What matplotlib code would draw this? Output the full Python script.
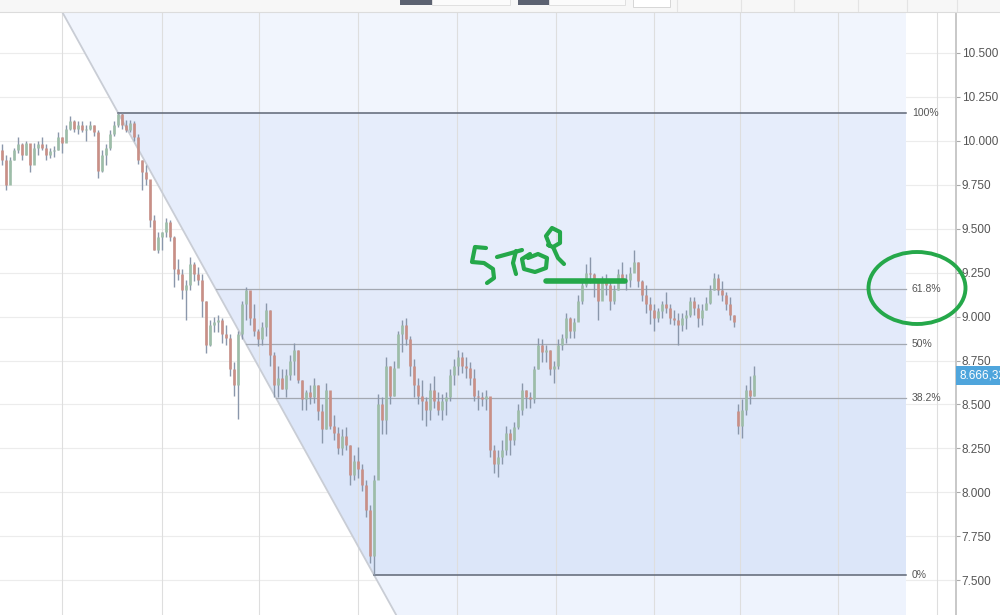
import numpy as np
import matplotlib
matplotlib.use("Agg")
import matplotlib.pyplot as plt
from matplotlib.patches import Rectangle, Ellipse
from matplotlib.lines import Line2D
from matplotlib.ticker import FormatStrFormatter
import matplotlib.transforms as mtransforms

plt.rcParams['font.family'] = ['Liberation Sans', 'DejaVu Sans']

# --- price data (first session) ---
highs_a = [9.98, 9.92, 9.91, 9.96, 10.02, 9.99, 10.00, 9.92, 9.99, 10.00,
           10.02, 9.98, 9.96, 9.97, 10.05, 10.02, 10.09, 10.14, 10.12, 10.11,
           10.11, 10.09, 10.11, 10.09, 10.06, 9.95, 9.98, 10.06, 10.11, 10.16,
           10.16, 10.12, 10.12, 10.11, 10.04, 9.89, 9.86, 9.75, 9.58, 9.48,
           9.48, 9.56, 9.55, 9.46, 9.33, 9.27, 9.21, 9.34, 9.31, 9.28,
           9.24, 9.09, 8.98, 9.00, 9.01, 8.99, 8.95, 8.90, 8.74, 8.92,
           9.09, 9.17, 9.14, 9.07, 8.93, 8.97, 9.08, 9.04, 8.80, 8.72,
           8.70, 8.70, 8.78, 8.85, 8.81, 8.64, 8.58, 8.61, 8.65, 8.61,
           8.50, 8.62, 8.55, 8.44, 8.37, 8.36, 8.37, 8.27, 8.21, 8.26,
           8.16, 8.07, 7.93, 8.10, 8.56, 8.54, 8.77, 8.72, 8.75, 8.92,
           8.98, 8.99, 8.89, 8.76, 8.65, 8.64, 8.54, 8.62, 8.66, 8.57,
           8.56, 8.57, 8.70, 8.76, 8.81, 8.80, 8.77, 8.74, 8.70, 8.58,
           8.57, 8.58, 8.53, 8.27, 8.24, 8.30, 8.38, 8.36, 8.40, 8.50,
           8.62, 8.58, 8.57, 8.72, 8.88, 8.87, 8.84, 8.81, 8.75, 8.87,
           8.90, 9.02, 9.00, 8.99, 9.12, 9.21, 9.30, 9.34, 9.25, 9.21,
           9.23, 9.24, 9.21, 9.18, 9.27, 9.31, 9.24, 9.28, 9.38, 9.31,
           9.21, 9.18, 9.11, 9.07, 9.05, 9.09, 9.14, 9.07, 9.04, 9.02,
           9.02, 9.04, 9.11, 9.11, 9.07, 9.07, 9.11, 9.18, 9.25, 9.24,
           9.20, 9.14, 9.11, 9.01]
lows_a = [9.86, 9.72, 9.82, 9.89, 9.93, 9.89, 9.92, 9.82, 9.89, 9.92,
          9.95, 9.89, 9.90, 9.91, 9.95, 9.93, 10.00, 10.06, 10.05, 10.04,
          10.05, 10.00, 10.06, 10.03, 9.79, 9.82, 9.86, 9.95, 10.03, 10.08,
          10.07, 10.05, 10.05, 10.00, 9.87, 9.72, 9.75, 9.51, 9.38, 9.36,
          9.38, 9.45, 9.43, 9.17, 9.21, 9.10, 8.98, 9.15, 9.20, 9.18,
          9.00, 8.79, 8.83, 8.91, 8.91, 8.85, 8.84, 8.66, 8.55, 8.42,
          8.87, 8.98, 8.95, 8.89, 8.83, 8.84, 8.89, 8.72, 8.54, 8.54,
          8.59, 8.54, 8.64, 8.67, 8.62, 8.47, 8.47, 8.50, 8.51, 8.41,
          8.28, 8.36, 8.36, 8.30, 8.22, 8.21, 8.24, 8.04, 8.07, 8.08,
          8.01, 7.86, 7.60, 7.53, 8.13, 8.33, 8.33, 8.50, 8.55, 8.72,
          8.80, 8.84, 8.66, 8.54, 8.50, 8.41, 8.38, 8.41, 8.48, 8.44,
          8.41, 8.44, 8.52, 8.61, 8.67, 8.68, 8.65, 8.61, 8.52, 8.47,
          8.49, 8.47, 8.20, 8.11, 8.09, 8.16, 8.21, 8.21, 8.27, 8.36,
          8.44, 8.48, 8.48, 8.51, 8.70, 8.74, 8.74, 8.67, 8.62, 8.70,
          8.81, 8.85, 8.88, 8.88, 8.98, 9.07, 9.17, 9.19, 9.11, 8.98,
          9.11, 9.12, 9.04, 9.07, 9.15, 9.20, 9.15, 9.17, 9.27, 9.17,
          9.09, 9.02, 8.96, 8.92, 8.97, 8.99, 9.02, 8.96, 8.95, 8.84,
          8.92, 8.93, 9.00, 9.01, 8.94, 8.95, 9.04, 9.07, 9.15, 9.12,
          9.09, 9.04, 8.98, 8.94]
closes_a = [9.89, 9.75, 9.89, 9.95, 9.98, 9.92, 9.99, 9.86, 9.96, 9.98,
            9.96, 9.92, 9.94, 9.95, 10.02, 9.99, 10.07, 10.11, 10.07, 10.09,
            10.06, 10.07, 10.09, 10.05, 9.83, 9.92, 9.96, 10.04, 10.09, 10.15,
            10.09, 10.06, 10.10, 10.02, 9.89, 9.82, 9.78, 9.55, 9.38, 9.45,
            9.48, 9.54, 9.45, 9.27, 9.24, 9.15, 9.18, 9.30, 9.24, 9.21,
            9.09, 8.84, 8.95, 8.97, 8.98, 8.90, 8.88, 8.70, 8.61, 8.90,
            9.07, 9.15, 8.99, 8.92, 8.87, 8.94, 9.04, 8.78, 8.61, 8.65,
            8.59, 8.67, 8.75, 8.81, 8.64, 8.53, 8.57, 8.54, 8.61, 8.46,
            8.36, 8.58, 8.38, 8.34, 8.25, 8.32, 8.27, 8.10, 8.18, 8.13,
            8.04, 7.90, 7.64, 8.07, 8.50, 8.41, 8.72, 8.55, 8.71, 8.90,
            8.95, 8.87, 8.72, 8.61, 8.55, 8.52, 8.47, 8.58, 8.52, 8.47,
            8.52, 8.54, 8.67, 8.72, 8.77, 8.72, 8.71, 8.65, 8.55, 8.54,
            8.53, 8.55, 8.24, 8.16, 8.20, 8.24, 8.34, 8.30, 8.37, 8.47,
            8.58, 8.54, 8.53, 8.70, 8.84, 8.80, 8.81, 8.70, 8.72, 8.84,
            8.88, 8.99, 8.92, 8.97, 9.09, 9.18, 9.25, 9.24, 9.21, 9.09,
            9.20, 9.18, 9.09, 9.15, 9.24, 9.21, 9.21, 9.25, 9.31, 9.20,
            9.12, 9.07, 9.04, 8.99, 9.03, 9.07, 9.05, 8.99, 8.98, 8.95,
            8.99, 9.01, 9.09, 9.05, 8.99, 9.04, 9.08, 9.15, 9.22, 9.15,
            9.12, 9.07, 9.01, 8.97]
open_a = 9.95

# --- second session (after the gap) ---
highs_b = [8.50, 8.53, 8.61, 8.66, 8.72]
lows_b = [8.33, 8.31, 8.44, 8.50, 8.55]
closes_b = [8.38, 8.47, 8.58, 8.55, 8.666]
open_b = 8.46
last_price_label = "8.666,32"

price_ticks = [7.5, 7.75, 8.0, 8.25, 8.5, 8.75, 9.0, 9.25, 9.5, 9.75, 10.0, 10.25, 10.5]
time_grid = [15, 40, 64.25, 89, 113.75, 138.5, 163, 184.5, 209, 233.75]

fib_ratios = [1.0, 0.618, 0.5, 0.382, 0.0]
fib_labels = ["100%", "61.8%", "50%", "38.2%", "0%"]

W, H = 1000, 615
fig = plt.figure(figsize=(W / 100, H / 100), dpi=100)
ax = fig.add_axes([0, 0, 0.956, 1 - 12 / H])
ax.set_xlim(-0.5, 238.5)
ax.set_ylim(7.302, 10.733)

# grid
for p in price_ticks:
    ax.axhline(p, color='#ececec', lw=0.8, zorder=0.2)

# fib retracement
i_hi = int(np.argmax(highs_a))
i_lo = int(np.argmin(lows_a))
p_hi = highs_a[i_hi]
p_lo = lows_a[i_lo]
fib_right = 226


def diag_x(p):
    return i_hi + (p_hi - p) * (i_lo - i_hi) / (p_hi - p_lo)


y0, y1 = ax.get_ylim()
levels = [p_lo + r * (p_hi - p_lo) for r in fib_ratios]
edges = [y1] + levels + [y0]
band_colors = ['#f1f5fd', '#e6edfb', '#e3eafa', '#e1e9f9', '#dce6f9', '#eef3fd']
for top, bot, c in zip(edges[:-1], edges[1:], band_colors):
    ax.fill([diag_x(top), fib_right, fib_right, diag_x(bot)], [top, top, bot, bot],
            color=c, lw=0, zorder=0.5)

for t in time_grid:
    ax.axvline(t, color='#dedede', lw=0.8, zorder=0.8)

ax.plot([diag_x(y1), diag_x(y0)], [y1, y0], color='#c9cdd5', lw=1.3, zorder=1)
for lev, r, lab in zip(levels, fib_ratios, fib_labels):
    dark = r in (0.0, 1.0)
    ax.plot([diag_x(lev), fib_right], [lev, lev], color='#5e6675' if dark else '#a3a8b1',
            lw=1.1 if dark else 0.9, zorder=1.2)
    ax.text(fib_right + 1.5, lev, lab, fontsize=7.5, color='#555555', va='center', ha='left')


# candles
def draw_bars(start, first_open, highs, lows, closes):
    opens = [first_open] + closes[:-1]
    for k, (o, h, l, c) in enumerate(zip(opens, highs, lows, closes)):
        x = start + k
        col = '#9dbda8' if c >= o else '#c98f86'
        ax.vlines(x, l, h, color='#8a97ab', lw=1.0, zorder=3)
        ax.vlines(x, min(o, c), max(o, c), color=col, lw=1.9, zorder=3.2)


draw_bars(0, open_a, highs_a, lows_a, closes_a)
draw_bars(len(closes_a), open_b, highs_b, lows_b, closes_b)

# right axis
ax.yaxis.tick_right()
ax.set_yticks(price_ticks)
ax.yaxis.set_major_formatter(FormatStrFormatter('%.3f'))
ax.tick_params(axis='y', length=3, width=0.8, color='#aaaaaa', labelsize=8.5,
               labelcolor='#555555', pad=1)
ax.set_xticks([])
for s in ['top', 'left', 'bottom']:
    ax.spines[s].set_visible(False)
ax.spines['right'].set_color('#c4c4c4')
ax.spines['right'].set_linewidth(1.3)

trans = mtransforms.blended_transform_factory(ax.transAxes, ax.transData)
ax.text(1.004, closes_b[-1], last_price_label, transform=trans, fontsize=8.5, color='white',
        va='center', ha='left', clip_on=False,
        bbox=dict(boxstyle='square,pad=0.3', fc='#4fa5dc', ec='none'))


# toolbar strip at the top
def px_rect(x, y, w, h, **kw):
    fig.add_artist(Rectangle((x / W, 1 - (y + h) / H), w / W, h / H,
                             transform=fig.transFigure, **kw))


px_rect(0, 0, W, 11.5, fc='#f7f7f7', ec='none')
fig.add_artist(Line2D([0, 1], [1 - 11.5 / H] * 2, color='#dcdcdc', lw=0.8, transform=fig.transFigure))
px_rect(432, -1, 78, 6, fc='#fbfbfb', ec='#e0e0e0', lw=0.7)
px_rect(549, -1, 76, 6, fc='#fbfbfb', ec='#e0e0e0', lw=0.7)
px_rect(400, -1, 32, 6, fc='#5c6271', ec='none')
px_rect(518, -1, 31, 6, fc='#5c6271', ec='none')
px_rect(633, -1, 37, 8, fc='white', ec='#d6d6d6', lw=0.7)
for sx in [677, 741, 794, 858, 907, 957]:
    fig.add_artist(Line2D([sx / W] * 2, [1 - 11 / H, 1], color='#e4e4e4', lw=0.8,
                          transform=fig.transFigure))


# hand-drawn green marks (pixel coordinates of the screenshot)
def px_line(pts, lw=3.0):
    pts = np.array(pts, dtype=float)
    fig.add_artist(Line2D(pts[:, 0] / W, 1 - pts[:, 1] / H, color='#25a84a', lw=lw,
                          solid_capstyle='round', solid_joinstyle='round',
                          transform=fig.transFigure, zorder=10))


px_line([(486, 248), (475, 247), (472, 262), (484, 263), (493, 269), (494, 278), (487, 283)])
px_line([(497, 257), (508, 254), (522, 250)])
px_line([(516, 251), (513, 263), (516, 274)])
px_line([(530, 254), (522, 259), (524, 269), (535, 272), (546, 268), (547, 258), (538, 254), (528, 258)])
px_line([(550, 246), (546, 236), (552, 228), (560, 232), (560, 243), (553, 247), (548, 245)])
px_line([(553, 247), (558, 258), (564, 264)])
px_line([(546, 281), (625, 281)], lw=4.0)
fig.add_artist(Ellipse((917 / W, 1 - 288 / H), 97 / W, 72 / H, fill=False, ec='#25a84a',
                       lw=2.8, transform=fig.transFigure, zorder=10))

fig.savefig('out.png', dpi=100)
